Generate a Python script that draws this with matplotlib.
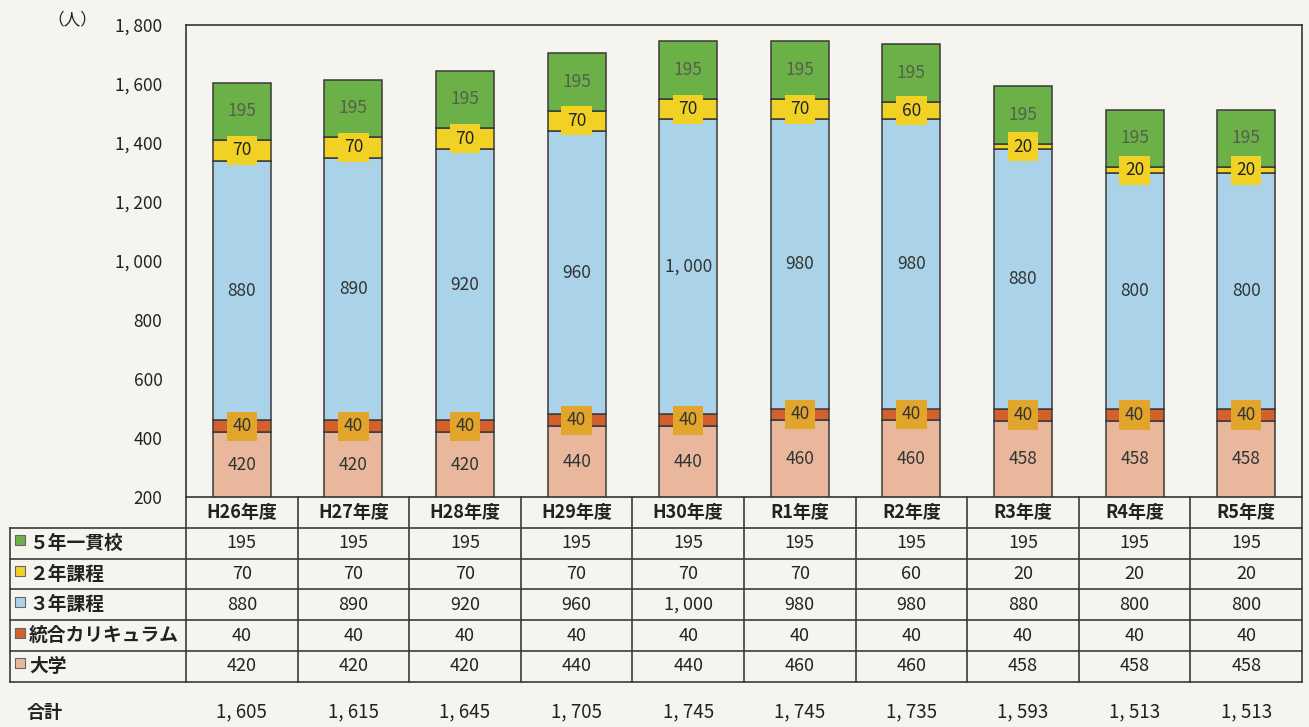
import matplotlib.pyplot as plt
from matplotlib.transforms import blended_transform_factory

plt.rcParams['font.family'] = ['Noto Sans CJK JP', 'DejaVu Sans']

# data
years = ['H26年度', 'H27年度', 'H28年度', 'H29年度', 'H30年度',
         'R1年度', 'R2年度', 'R3年度', 'R4年度', 'R5年度']
gakko5 = [195, 195, 195, 195, 195, 195, 195, 195, 195, 195]
katei2 = [70, 70, 70, 70, 70, 70, 60, 20, 20, 20]
katei3 = [880, 890, 920, 960, 1000, 980, 980, 880, 800, 800]
togo = [40, 40, 40, 40, 40, 40, 40, 40, 40, 40]
daigaku = [420, 420, 420, 440, 440, 460, 460, 458, 458, 458]
totals = [1605, 1615, 1645, 1705, 1745, 1745, 1735, 1593, 1513, 1513]
yticks = [200, 400, 600, 800, 1000, 1200, 1400, 1600, 1800]

def fmt(v):
    return f'{v:,}'.replace(',', ', ')

bg = '#f6f4ee'
# bottom-up stacking order
series = [
    ('大学', daigaku, '#e9b89c', '#333333', None),
    ('統合カリキュラム', togo, '#d4602c', '#333333', '#e2a52c'),
    ('３年課程', katei3, '#aad3ea', '#333333', None),
    ('２年課程', katei2, '#f1d224', '#222222', '#f1d224'),
    ('５年一貫校', gakko5, '#6cb048', '#56604c', None),
]

fig = plt.figure(figsize=(13.09, 7.27), dpi=100, facecolor=bg)
ax = fig.add_axes([186 / 1309, 1 - 497 / 727, 1116 / 1309, 472 / 727])
ax.set_facecolor(bg)
# overlay axes in pixel coords for the table
tx = fig.add_axes([0, 0, 1, 1], facecolor='none')
tx.set_xlim(0, 1309)
tx.set_ylim(727, 0)
tx.axis('off')

x = list(range(len(years)))
bottom = [0] * len(years)
for name, vals, color, tcolor, boxc in series:
    ax.bar(x, vals, bottom=bottom, width=0.52, color=color,
           edgecolor='#3a3a3a', linewidth=1.1, zorder=2)
    for i, v in enumerate(vals):
        lo = max(bottom[i], 200)
        yc = (lo + bottom[i] + v) / 2
        kw = {}
        if boxc:
            kw['bbox'] = dict(boxstyle='square,pad=0.32', fc=boxc, ec='none')
        ax.text(i, yc, fmt(v), ha='center', va='center', fontsize=12.5,
                color=tcolor, zorder=3, **kw)
    bottom = [b + v for b, v in zip(bottom, vals)]

ax.set_xlim(-0.5, len(years) - 0.5)
ax.set_ylim(200, 1800)
ax.set_yticks(yticks)
ax.set_yticklabels([fmt(t) for t in yticks], fontsize=12.5, color='#222222')
ax.set_xticks([])
ax.tick_params(axis='y', length=0, pad=17)
for s in ax.spines.values():
    s.set_color('#333333')
    s.set_linewidth(1.2)

tx.text(72, 20, '（人）', ha='center', va='center', fontsize=12, color='#222222')

# table below the chart
tr = blended_transform_factory(ax.transData, tx.transData)
row_lines = [497, 527.8, 558.6, 589.4, 620.2, 651, 681.8]
lc = '#3a3a3a'
for y in row_lines[1:]:
    tx.plot([10, 1302], [y, y], color=lc, lw=1.2)
tx.plot([10, 10], [row_lines[1], row_lines[-1]], color=lc, lw=1.2)
for i in range(len(years) + 1):
    tx.plot([i - 0.5, i - 0.5], [row_lines[0], row_lines[-1]],
            color=lc, lw=1.2, transform=tr)

for i, yr in enumerate(years):
    tx.text(i, (row_lines[0] + row_lines[1]) / 2, yr, transform=tr,
            ha='center', va='center', fontsize=13, fontweight='bold',
            color='#222222')

table_rows = series[::-1]
for r, (name, vals, color, tcolor, boxc) in enumerate(table_rows):
    yc = (row_lines[r + 1] + row_lines[r + 2]) / 2
    tx.scatter([20], [yc - 3], marker='s', s=42, color=color,
               edgecolor='#666666', linewidth=0.8)
    tx.text(29, yc, name, ha='left', va='center', fontsize=13.5,
            fontweight='bold', color='#222222')
    for i, v in enumerate(vals):
        tx.text(i, yc, fmt(v), transform=tr, ha='center', va='center',
                fontsize=13, color='#222222')

tx.text(45, 712, '合計', ha='center', va='center', fontsize=13,
        fontweight='bold', color='#222222')
for i, v in enumerate(totals):
    tx.text(i, 712, fmt(v), transform=tr, ha='center', va='center',
            fontsize=13.5, color='#222222')

fig.savefig('out.png', dpi=100, facecolor=bg)
